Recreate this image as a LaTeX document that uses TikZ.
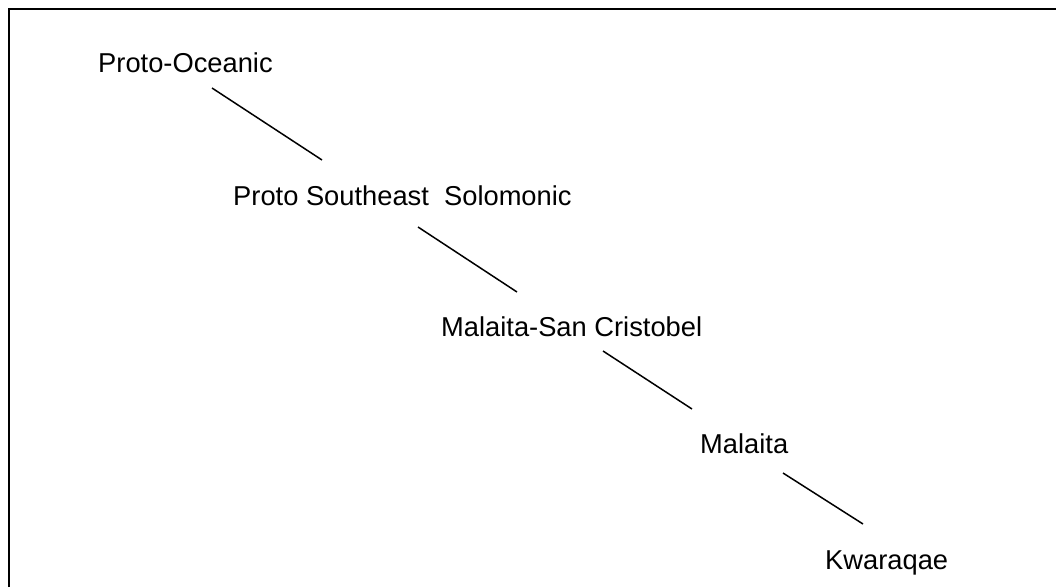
\documentclass[tikz,border=0pt]{standalone}
\usepackage{fontspec}
\setmainfont{Liberation Sans}
\begin{document}
\begin{tikzpicture}[x=1pt,y=-1pt,
  lang/.style={anchor=base west,inner sep=0pt,font=\fontsize{27.3}{32}\selectfont},
  branch/.style={line width=1.5pt,black},
  frame/.style={line width=2pt,black}]
\useasboundingbox (0,0) rectangle (1056,587);
% open frame: top and left edges
\draw[frame] (9,587) -- (9,9) -- (1056,9);
% language nodes
\node[lang] (po)  at (98,72)  {Proto-Oceanic};
\node[lang] (pss) at (233,205) {Proto Southeast~~Solomonic};
\node[lang] (msc) at (441,336) {Malaita-San Cristobel};
\node[lang] (mal) at (700,453) {Malaita};
\node[lang] (kw)  at (825,569) {Kwaraqae};
% branches of the tree
\draw[branch] ([shift={(114,16)}]po.base west) -- ([shift={(89,-45)}]pss.base west);
\draw[branch] ([shift={(185,22)}]pss.base west) -- ([shift={(76,-44)}]msc.base west);
\draw[branch] ([shift={(162,15)}]msc.base west) -- ([shift={(-8,-44)}]mal.base west);
\draw[branch] ([shift={(83,20)}]mal.base west) -- ([shift={(38,-45)}]kw.base west);
\end{tikzpicture}
\end{document}
